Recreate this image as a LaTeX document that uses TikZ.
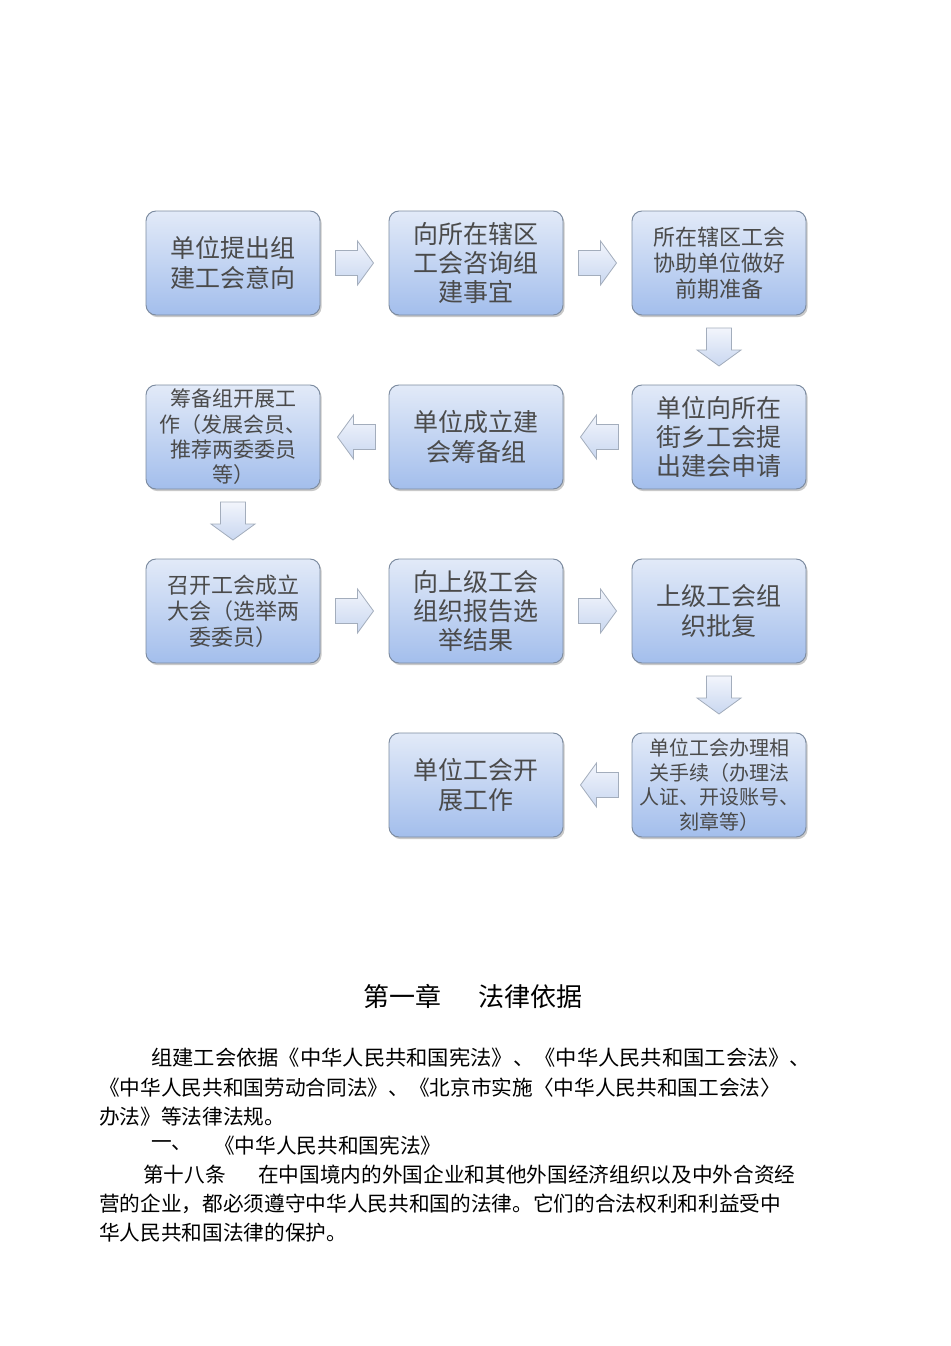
\documentclass[tikz,border=0pt]{standalone}
\usepackage{fontspec}
\newfontfamily\cjk{Noto Sans CJK SC}
\usetikzlibrary{calc,shadows}
\definecolor{boxtop}{HTML}{E2EAF8}
\definecolor{boxbot}{HTML}{A3BEEC}
\definecolor{boxline}{HTML}{7C8BA0}
\definecolor{arrtop}{HTML}{F2F5FC}
\definecolor{arrbot}{HTML}{C9D7F0}
\definecolor{arrline}{HTML}{A3ADBC}
\definecolor{boxtext}{HTML}{4A4A4A}
\newcommand{\blockarrow}[2]{%
  \path[draw=arrline, line width=0.6pt, top color=arrtop, bottom color=arrbot, shift={(#1)}, rotate=#2]
    (-19,-12.5) -- (3,-12.5) -- (3,-22) -- (19,0) -- (3,22) -- (3,12.5) -- (-19,12.5) -- cycle;}
\tikzset{
  flowbox/.style={draw=boxline, line width=0.7pt, rounded corners=7.5pt,
    top color=boxtop, bottom color=boxbot, minimum width=130.5pt, minimum height=78pt,
    inner sep=0pt, align=center, text=boxtext,
    drop shadow={shadow xshift=1.2pt, shadow yshift=-1.6pt, opacity=0.35, fill=black!60}},
  big/.style={font=\cjk\fontsize{18.75pt}{22pt}\selectfont},
  mid/.style={font=\cjk\fontsize{16.5pt}{19.5pt}\selectfont},
  small/.style={font=\cjk\fontsize{15.75pt}{19pt}\selectfont},
  tiny/.style={font=\cjk\fontsize{15pt}{18.4pt}\selectfont},
  para/.style={font=\cjk\fontsize{15.5pt}{15.5pt}\selectfont, anchor=west, inner sep=0pt, text=black},
}
\begin{document}
\begin{tikzpicture}[x=0.75pt,y=-0.75pt]
\useasboundingbox[fill=white] (0,0) rectangle (950,1346);
% row 1
\node[flowbox, big] (b1) at (233,263) {单位提出组\\建工会意向};
\node[flowbox, big] (b2) at (476,263) {向所在辖区\\工会咨询组\\建事宜};
\node[flowbox, mid] (b3) at (719,263) {所在辖区工会\\协助单位做好\\前期准备};
% row 2
\node[flowbox, big] (b4) at (719,437) {单位向所在\\街乡工会提\\出建会申请};
\node[flowbox, big] (b5) at (476,437) {单位成立建\\会筹备组};
\node[flowbox, small] (b6) at (233,437) {筹备组开展工\\作（发展会员、\\推荐两委委员\\等）};
% row 3
\node[flowbox, mid] (b7) at (233,611) {召开工会成立\\大会（选举两\\委委员）};
\node[flowbox, big] (b8) at (476,611) {向上级工会\\组织报告选\\举结果};
\node[flowbox, big] (b9) at (719,611) {上级工会组\\织批复};
% row 4
\node[flowbox, tiny] (b10) at (719,785) {单位工会办理相\\关手续（办理法\\人证、开设账号、\\刻章等）};
\node[flowbox, big] (b11) at (476,785) {单位工会开\\展工作};
% arrows
\coordinate (a12) at ($(b1.east)!0.5!(b2.west)$);
\coordinate (a23) at ($(b2.east)!0.5!(b3.west)$);
\coordinate (a34) at ($(b3.south)!0.5!(b4.north)+(0,-3)$);
\coordinate (a45) at ($(b4.west)!0.5!(b5.east)+(2,0)$);
\coordinate (a56) at ($(b5.west)!0.5!(b6.east)+(2,0)$);
\coordinate (a67) at ($(b6.south)!0.5!(b7.north)+(0,-3)$);
\coordinate (a78) at ($(b7.east)!0.5!(b8.west)$);
\coordinate (a89) at ($(b8.east)!0.5!(b9.west)$);
\coordinate (a910) at ($(b9.south)!0.5!(b10.north)+(0,-3)$);
\coordinate (a1011) at ($(b10.west)!0.5!(b11.east)+(2,0)$);
\blockarrow{a12}{0}
\blockarrow{a23}{0}
\blockarrow{a34}{-90}
\blockarrow{a45}{180}
\blockarrow{a56}{180}
\blockarrow{a67}{-90}
\blockarrow{a78}{0}
\blockarrow{a89}{0}
\blockarrow{a910}{-90}
\blockarrow{a1011}{180}
% text below
\node[font=\cjk\fontsize{19.5pt}{19.5pt}\selectfont, inner sep=0pt] (title) at (473,996) {第一章\hspace{27.75pt}法律依据};
\node[para] (l1) at (151,1058) {\scalebox{1.03}[1]{组建工会依据《中华人民共和国宪法》、《中华人民共和国工会法》、}};
\node[para] (l2) at (99,1088) {《中华人民共和国劳动合同法》、《北京市实施〈中华人民共和国工会法〉};
\node[para] (l3) at (99,1117) {办法》等法律法规。};
\node[para] (l4a) at (151,1146) {一、};
\node[para] (l4b) at (214,1146) {《中华人民共和国宪法》};
\node[para] (l5a) at (143,1175) {第十八条};
\node[para] (l5b) at (258,1175) {在中国境内的外国企业和其他外国经济组织以及中外合资经};
\node[para] (l6) at (99,1204) {营的企业，都必须遵守中华人民共和国的法律。它们的合法权利和利益受中};
\node[para] (l7) at (99,1233) {华人民共和国法律的保护。};
\end{tikzpicture}
\end{document}
